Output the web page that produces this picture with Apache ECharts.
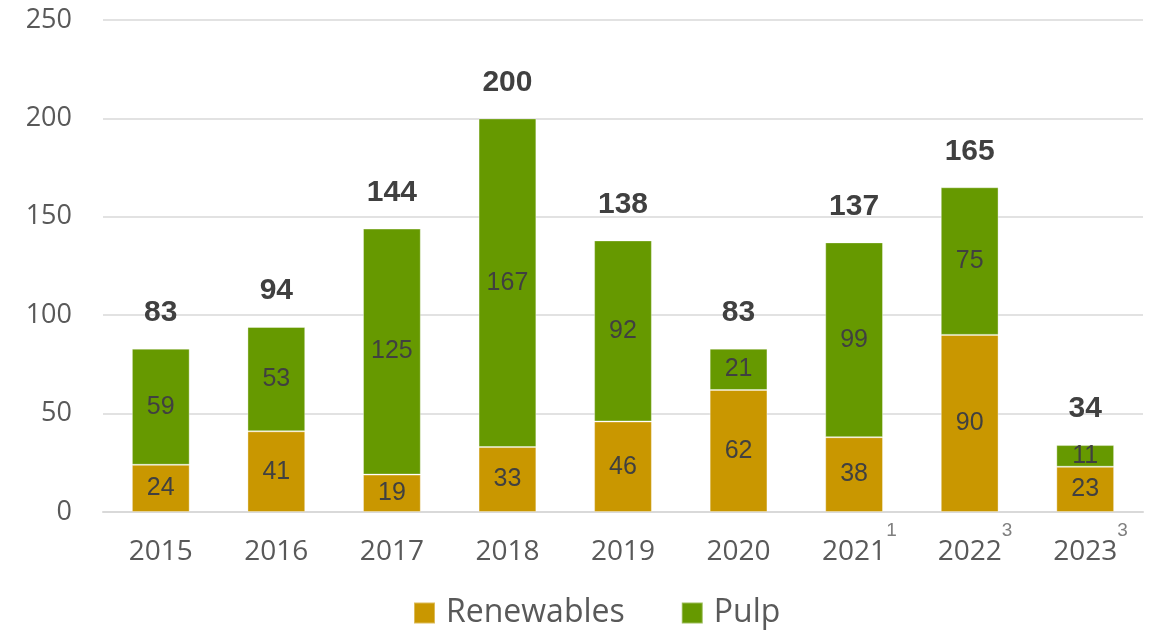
<!DOCTYPE html>
<html>
<head>
<meta charset="utf-8">
<script src="https://cdn.jsdelivr.net/npm/echarts@6/dist/echarts.min.js"></script>
<style>
  html, body { margin: 0; padding: 0; background: #fff; }
  #chart { width: 1155px; height: 630px; }
</style>
</head>
<body>
<div id="chart"></div>
<script>
const years = ['2015', '2016', '2017', '2018', '2019', '2020', '2021', '2022', '2023']
const footnotes = ['', '', '', '', '', '', '1', '3', '3']
const renewables = [24, 41, 19, 33, 46, 62, 38, 90, 23]
const pulp = [59, 53, 125, 167, 92, 21, 99, 75, 11]
const yTicks = [0, 50, 100, 150, 200, 250]

const totals = years.map((_, i) => renewables[i] + pulp[i])

const chart = echarts.init(document.getElementById('chart'))

const labelText = { color: '#404040', fontFamily: 'Liberation Sans', fontSize: 25 }

chart.setOption({
  animation: false,
  grid: { left: 103, right: 12, top: 20, bottom: 118 },
  legend: {
    data: ['Renewables', 'Pulp'],
    top: 592,
    left: 408,
    icon: 'rect',
    itemWidth: 21,
    itemHeight: 21,
    itemGap: 56,
    textStyle: { color: '#595959', fontFamily: 'Open Sans', fontSize: 32, padding: [0, 0, 0, 6] },
  },
  xAxis: {
    type: 'category',
    data: years,
    axisTick: { show: false },
    axisLine: { lineStyle: { color: '#d9d9d9', width: 2 } },
    axisLabel: {
      interval: 0,
      margin: 10,
      formatter: (val, idx) => {
        const fn = footnotes[idx]
        if (!fn) return '{y|' + val + '}'
        return '{h|' + fn + '}{y|' + val + '}{s|' + fn + '}'
      },
      rich: {
        y: { color: '#595959', fontFamily: 'Open Sans', fontSize: 28, lineHeight: 60 },
        s: { color: '#7f7f7f', fontFamily: 'Liberation Sans', fontSize: 19, lineHeight: 18, padding: [0, 0, 42, 0] },
        h: { color: 'transparent', fontFamily: 'Liberation Sans', fontSize: 19, lineHeight: 18, padding: [0, 0, 42, 0] },
      },
    },
  },
  yAxis: {
    type: 'value',
    min: yTicks[0],
    max: yTicks[yTicks.length - 1],
    interval: 50,
    axisLine: { show: false },
    axisTick: { show: false },
    axisLabel: { color: '#595959', fontFamily: 'Open Sans', fontSize: 27, margin: 31 },
    splitLine: { lineStyle: { color: '#d9d9d9', width: 1.5 } },
  },
  series: [
    {
      name: 'Renewables',
      type: 'bar',
      stack: 'total',
      data: renewables,
      barWidth: '50%',
      itemStyle: { color: '#c99700', borderColor: 'rgba(255,255,255,0.35)', borderWidth: 1 },
      label: { show: true, position: 'inside', ...labelText },
    },
    {
      name: 'Pulp',
      type: 'bar',
      stack: 'total',
      data: pulp,
      itemStyle: { color: '#669900', borderColor: 'rgba(255,255,255,0.35)', borderWidth: 1 },
      label: { show: true, position: 'inside', ...labelText },
    },
    {
      name: 'Total',
      type: 'line',
      data: totals,
      symbol: 'circle',
      symbolSize: 1,
      itemStyle: { color: 'transparent', borderColor: 'transparent' },
      lineStyle: { color: 'transparent', width: 0 },
      label: {
        show: true,
        position: 'top',
        distance: 20,
        color: '#404040',
        fontFamily: 'Liberation Sans',
        fontWeight: 'bold',
        fontSize: 30,
      },
      z: 5,
    },
  ],
})
</script>
</body>
</html>
